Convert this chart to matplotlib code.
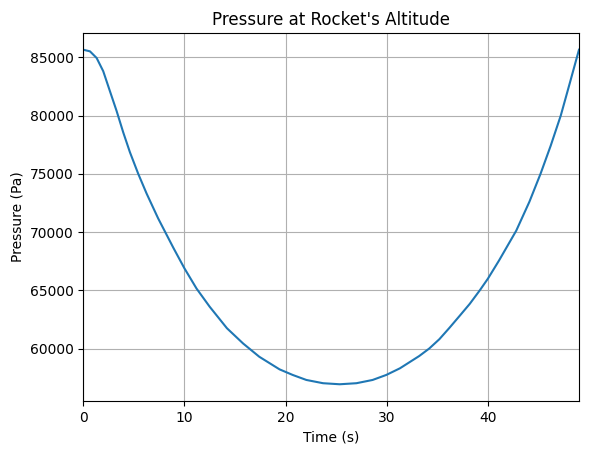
import matplotlib
matplotlib.use("Agg")
import matplotlib.pyplot as plt

# values
time_s = [0, 0.66, 1.32, 1.97, 2.63, 3.29, 3.95, 4.61, 5.43, 6.26, 7.4, 8.9,
          10.0, 11.2, 12.5, 14.2, 15.8, 17.4, 19.4, 20.7, 22.05, 23.7, 25.35,
          27.0, 28.6, 29.95, 31.3, 33.2, 34.2, 35.2, 36.2, 37.2, 38.2, 39.2,
          40.0, 41.1, 42.8, 44.1, 45.2, 46.2, 47.2, 48.1, 49.0]
pressure_pa = [85650, 85510, 84940, 83810, 82100, 80400, 78550, 76850, 75000,
               73300, 71170, 68650, 66880, 65140, 63580, 61740, 60430, 59290,
               58210, 57730, 57300, 57020, 56930, 57020, 57300, 57730, 58300,
               59350, 60000, 60800, 61780, 62800, 63830, 65000, 66000, 67560,
               70120, 72600, 75000, 77400, 80000, 82810, 85650]

fig = plt.figure(figsize=(5.89, 4.55), dpi=100)
plt.subplots_adjust(left=0.1414, right=0.983, top=0.9275, bottom=0.1187)
plt.plot(time_s, pressure_pa)
plt.title("Pressure at Rocket's Altitude")
plt.xlabel('Time (s)')
plt.ylabel('Pressure (Pa)')
plt.xlim(0, 49)
plt.grid(True)

plt.savefig('out.png', dpi=100)
